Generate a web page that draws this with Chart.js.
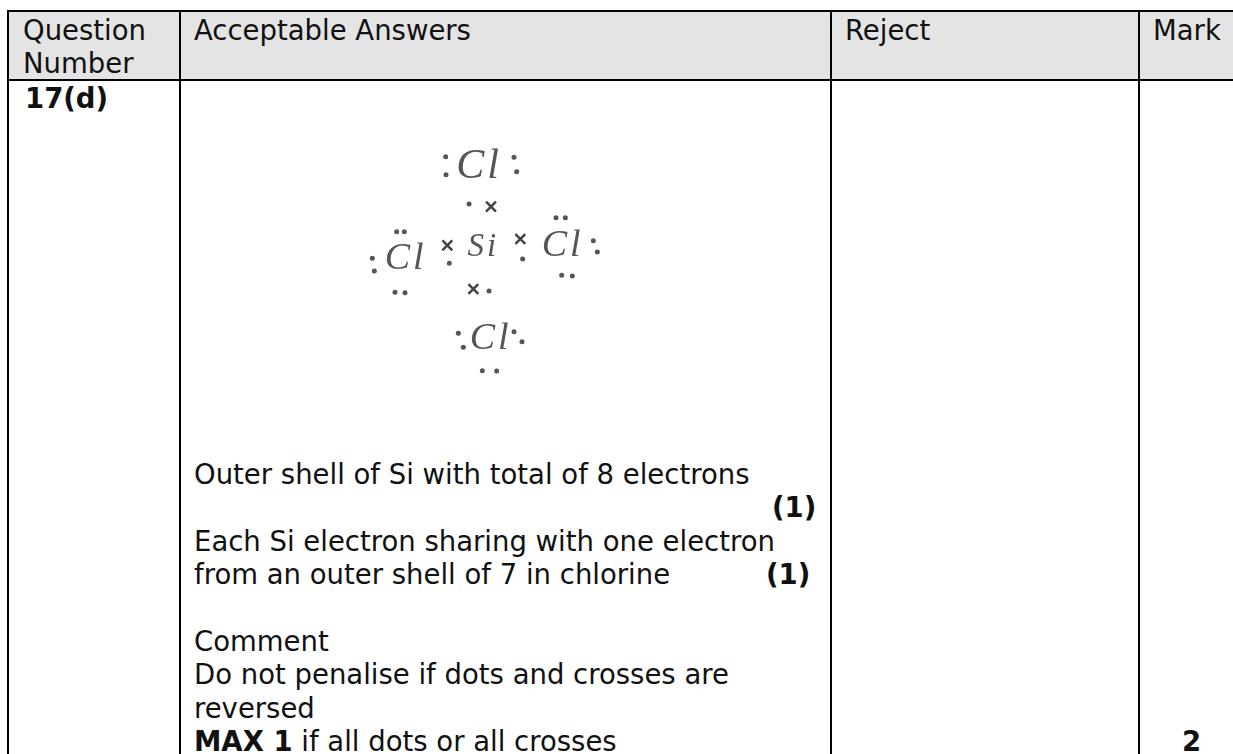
<!DOCTYPE html>
<html lang="en">
  <head>
    <meta charset="UTF-8" />
    <script src="https://cdn.jsdelivr.net/npm/chart.js@4/dist/chart.umd.min.js"></script>
    <title>Question 17(d)</title>
    <style>
      html, body { margin: 0; background: #fff; overflow: hidden; }
      body { width: 1233px; height: 754px; position: relative; font: 27.5px/33.3px "DejaVu Sans", sans-serif; color: #111; }
      .head { position: absolute; left: 8px; top: 11px; width: 1225px; height: 69px; background: #e4e4e4; }
      .h { position: absolute; background: #000; height: 2px; left: 7px; right: 0; }
      .v { position: absolute; background: #000; width: 2px; top: 10px; bottom: 0; }
      .t { position: absolute; white-space: pre; }
      .last { line-height: 24px; }
      b { font-weight: bold; }
      #diagram { position: absolute; left: 340px; top: 140px; filter: blur(0.6px); }
    </style>
  </head>
  <body>
    <div class="head"></div>
    <div class="h" style="top: 10px"></div>
    <div class="h" style="top: 79px"></div>
    <div class="v" style="left: 7px"></div>
    <div class="v" style="left: 179px"></div>
    <div class="v" style="left: 830px"></div>
    <div class="v" style="left: 1138px"></div>

    <div class="t" style="left: 23px; top: 14px">Question
Number</div>
    <div class="t" style="left: 194px; top: 14px">Acceptable Answers</div>
    <div class="t" style="left: 845px; top: 14px">Reject</div>
    <div class="t" style="left: 1153px; top: 14px">Mark</div>
    <div class="t" style="left: 25px; top: 82px"><b>17(d)</b></div>
    <div class="t" style="left: 194px; top: 458px">Outer shell of Si with total of 8 electrons</div>
    <div class="t" style="left: 772px; top: 491px"><b>(1)</b></div>
    <div class="t" style="left: 194px; top: 525px">Each Si electron sharing with one electron</div>
    <div class="t" style="left: 194px; top: 558px">from an outer shell of 7 in chlorine</div>
    <div class="t" style="left: 766px; top: 558px"><b>(1)</b></div>
    <div class="t" style="left: 194px; top: 625px">Comment
Do not penalise if dots and crosses are
reversed</div>
    <div class="t last" style="left: 194px; top: 729px"><b>MAX 1</b> if all dots or all crosses</div>
    <div class="t last" style="left: 1182px; top: 729px"><b>2</b></div>

    <canvas id="diagram" width="280" height="260"></canvas>
    <script>
      // positions, in units of 1/3 px inside the diagram area
      const dotX = [317, 318, 522, 530, 387, 170, 193, 97, 103, 165, 195, 648, 676, 760, 772, 665, 697, 328, 548, 447, 355, 370, 522, 546, 427, 470];
      const dotY = [50, 104, 52, 95, 192, 275, 275, 355, 393, 457, 458, 233, 233, 302, 336, 406, 408, 370, 357, 453, 580, 622, 575, 605, 692, 693];
      const crossX = [453, 322, 541, 400];
      const crossY = [200, 316, 297, 447];
      const atomNames = ["Cl", "Cl", "Cl", "Si", "Cl"];
      const atomX = [417, 197, 668, 430, 452];
      const atomY = [113, 388, 347, 348, 627];

      function toPoints(xs, ys) {
        return xs.map((x, i) => ({ x: x, y: ys[i] }));
      }

      const atomLabels = {
        id: "atomLabels",
        afterDatasetsDraw(chart) {
          const c = chart.ctx;
          c.save();
          c.fillStyle = "#555";
          c.textAlign = "center";
          c.letterSpacing = "3px";
          atomNames.forEach((name, i) => {
            c.font = "italic " + (i == 0 ? 42 : name == "Si" ? 33 : 38) + 'px "Liberation Serif"';
            c.fillText(name, chart.scales.x.getPixelForValue(atomX[i]), chart.scales.y.getPixelForValue(atomY[i]));
          });
          c.restore();
        },
      };

      new Chart(document.getElementById("diagram"), {
        type: "scatter",
        data: {
          datasets: [
            {
              label: "dots",
              data: toPoints(dotX, dotY),
              pointStyle: "circle",
              pointRadius: 2.5,
              backgroundColor: "#555",
              borderWidth: 0,
            },
            {
              label: "crosses",
              data: toPoints(crossX, crossY),
              pointStyle: "crossRot",
              pointRadius: 7,
              borderColor: "#444",
              borderWidth: 2.5,
            },
          ],
        },
        options: {
          responsive: false,
          animation: false,
          layout: { padding: 0, autoPadding: false },
          plugins: { legend: { display: false }, tooltip: { enabled: false } },
          scales: {
            x: { display: false, min: 0, max: 840 },
            y: { display: false, min: 0, max: 780, reverse: true },
          },
        },
        plugins: [atomLabels],
      });
    </script>
  </body>
</html>
